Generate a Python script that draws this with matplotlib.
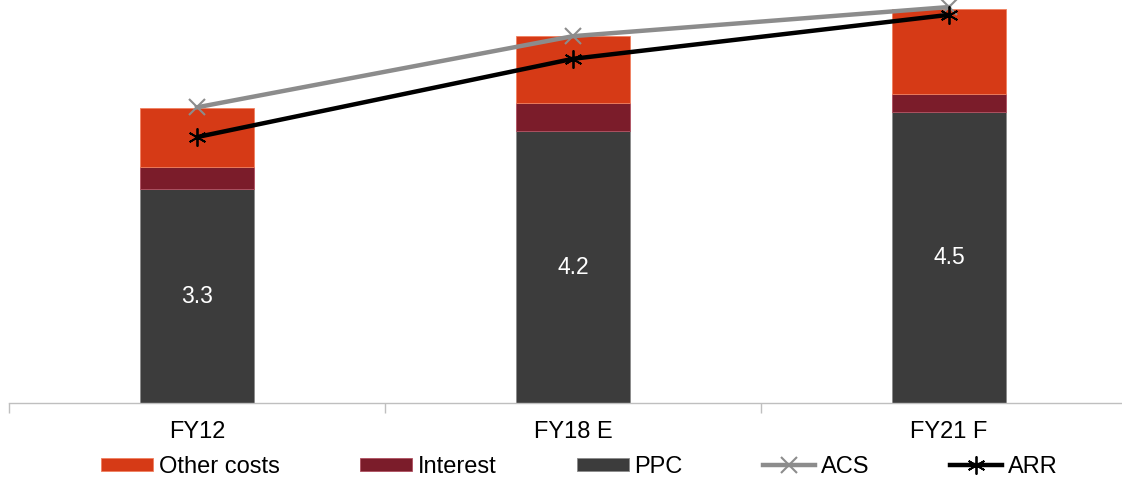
import numpy as np
import matplotlib
matplotlib.use("Agg")
import matplotlib.pyplot as plt

plt.rcParams['font.family'] = ['Liberation Sans', 'DejaVu Sans']

categories = ["FY12", "FY18 E", "FY21 F"]
ppc = [3.3, 4.2, 4.5]
interest = [0.35, 0.44, 0.28]
other_costs = [0.91, 1.03, 1.31]
acs = [4.57, 5.67, 6.12]
arr = [4.11, 5.32, 6.00]

c_other = "#D63A16"
c_int = "#7B1C2A"
c_ppc = "#3C3C3C"
c_acs = "#8C8C8C"
c_arr = "#000000"

fig = plt.figure(figsize=(11.22, 4.8), dpi=100)
ax = fig.add_axes([9 / 1122, 77 / 480, 1113 / 1122, 403 / 480])

x = np.arange(len(categories))
w = 0.303
ppc_arr = np.array(ppc)
int_arr = np.array(interest)

b_ppc = ax.bar(x, ppc, w, color=c_ppc, edgecolor="#8a8a8a", linewidth=0.6, label="PPC")
b_int = ax.bar(x, interest, w, bottom=ppc_arr, color=c_int, edgecolor="#b05060", linewidth=0.6, label="Interest")
b_oth = ax.bar(x, other_costs, w, bottom=ppc_arr + int_arr, color=c_other, edgecolor="#f08060", linewidth=0.6, label="Other costs")

l_acs, = ax.plot(x, acs, color=c_acs, lw=3.2, marker="x", ms=11, mew=1.5, label="ACS", clip_on=False, zorder=4)
l_arr, = ax.plot(x, arr, color=c_arr, lw=3.2, marker=(6, 2, 0), ms=13, mew=1.3, label="ARR", clip_on=False, zorder=5)

for xi, v in zip(x, ppc):
    ax.text(xi, v / 2, f"{v:.1f}", ha="center", va="center", color="white", fontsize=16.5)

ax.set_xticks(x)
ax.set_xticklabels(categories, fontsize=17)
ax.set_xticks([-0.5, 0.5, 1.5, 2.5], minor=True)
ax.set_xlim(-0.5, 2.5 - 15 / 376)
ax.set_ylim(0, 403 / 64.7)
ax.tick_params(axis="x", which="major", length=0, pad=13)
ax.tick_params(axis="x", which="minor", length=7, color="#bfbfbf", width=1)
ax.set_yticks([])
for s in ["top", "right", "left"]:
    ax.spines[s].set_visible(False)
ax.spines["bottom"].set_color("#bfbfbf")
ax.spines["bottom"].set_linewidth(1)

fig.legend([b_oth, b_int, b_ppc, l_acs, l_arr],
           ["Other costs", "Interest", "PPC", "ACS", "ARR"],
           loc="center", bbox_to_anchor=(579 / 1122, 13 / 480), ncol=5,
           frameon=False, fontsize=17, handlelength=2.2, handleheight=0.5,
           handletextpad=0.25, columnspacing=3.4, borderpad=0, borderaxespad=0)

fig.savefig("out.png", dpi=100)
